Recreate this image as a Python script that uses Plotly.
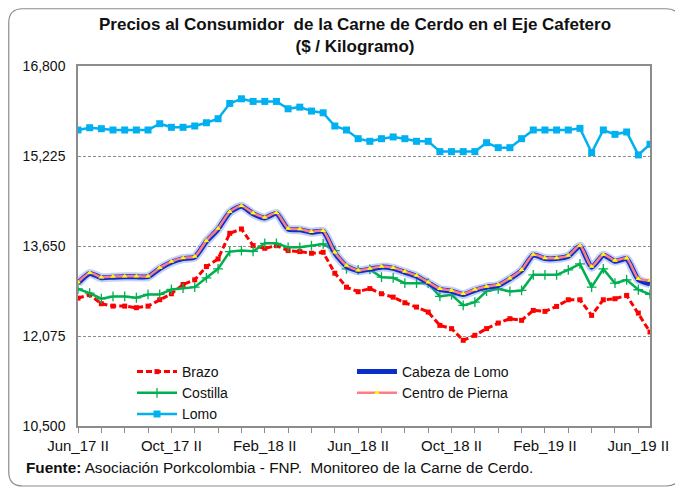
import plotly.graph_objects as go

# ---- data ----
months = ["Ene", "Feb", "Mar", "Abr", "May", "Jun", "Jul", "Ago", "Sep", "Oct", "Nov", "Dic"]
periods = []
for k in range(50):
    m_index = 5 + (k + 1) // 2          # starts at Jun 2017, second half
    year = 17 + m_index // 12
    mon = months[m_index % 12]
    periods.append(f"{mon}_{year} {'II' if k % 2 == 0 else 'I'}")

brazo = [12738, 12797, 12640, 12598, 12598, 12570, 12598, 12710, 12814, 12977,
         13058, 13290, 13424, 13872, 13948, 13657, 13610, 13657, 13570, 13552,
         13523, 13540, 13174, 12930, 12850, 12905, 12814, 12755, 12657, 12581,
         12494, 12261, 12204, 12000, 12087, 12204, 12302, 12378, 12349, 12523,
         12506, 12593, 12709, 12709, 12436, 12709, 12727, 12785, 12476, 12145]

costilla = [12901, 12826, 12727, 12767, 12767, 12744, 12802, 12802, 12889, 12912,
            12930, 13093, 13250, 13552, 13570, 13558, 13697, 13697, 13627, 13627,
            13657, 13686, 13570, 13250, 13233, 13240, 13104, 13093, 12999, 12999,
            12999, 12767, 12796, 12610, 12668, 12860, 12901, 12855, 12872, 13146,
            13146, 13146, 13233, 13337, 12930, 13250, 12999, 13058, 12884, 12802]

lomo = [15680, 15720, 15703, 15680, 15680, 15680, 15680, 15790, 15727, 15727,
        15750, 15807, 15877, 16145, 16226, 16180, 16180, 16180, 16051, 16080,
        16011, 15981, 15750, 15680, 15528, 15482, 15528, 15558, 15528, 15482,
        15482, 15302, 15302, 15302, 15302, 15458, 15371, 15371, 15528, 15680,
        15680, 15680, 15680, 15709, 15285, 15680, 15604, 15645, 15244, 15430]

cabeza_lomo = [13000, 13170, 13095, 13105, 13110, 13110, 13112, 13255, 13365, 13430,
               13455, 13730, 13945, 14240, 14345, 14215, 14140, 14220, 13945, 13935,
               13890, 13905, 13525, 13295, 13215, 13245, 13280, 13258, 13190, 13120,
               13005, 12890, 12860, 12800, 12875, 12930, 12960, 13075, 13220, 13490,
               13430, 13430, 13470, 13645, 13278, 13488, 13383, 13425, 13062, 12990]

centro_pierna = [13017, 13180, 13104, 13116, 13121, 13121, 13121, 13268, 13378, 13442,
                 13465, 13744, 13958, 14250, 14354, 14227, 14150, 14232, 13958, 13948,
                 13901, 13918, 13540, 13308, 13227, 13256, 13290, 13268, 13203, 13133,
                 13017, 12901, 12872, 12814, 12889, 12942, 12971, 13087, 13233, 13500,
                 13442, 13442, 13482, 13657, 13290, 13500, 13395, 13436, 13076, 13046]

y_ticks = [10500, 12075, 13650, 15225, 16800]
y_ticktext = ["10,500", "12,075", "13,650", "15,225", "16,800"]

tick_positions = periods[0:50:2]
tick_labels = [p if i % 8 == 0 else "" for i, p in zip(range(0, 50, 2), tick_positions)]

FONT = "Liberation Sans, Arial, sans-serif"

fig = go.Figure()

fig.add_trace(go.Scatter(
    x=periods, y=brazo, name="Brazo", mode="lines+markers",
    line=dict(color="#FF0000", width=3, dash="6px,3px"),
    marker=dict(symbol="square", size=5, color="#FF0000"),
    legend="legend"))
fig.add_trace(go.Scatter(
    x=periods, y=costilla, name="Costilla", mode="lines+markers",
    line=dict(color="#00B050", width=2.5),
    marker=dict(symbol="cross-thin", size=7, line=dict(color="#00B050", width=1.3)),
    legend="legend"))
fig.add_trace(go.Scatter(
    x=periods, y=lomo, name="Lomo", mode="lines+markers",
    line=dict(color="#00B0F0", width=2.5),
    marker=dict(symbol="square", size=7, color="#00B0F0"),
    legend="legend"))
# soft glow under Cabeza de Lomo
fig.add_trace(go.Scatter(
    x=periods, y=cabeza_lomo, mode="lines", showlegend=False, hoverinfo="skip",
    line=dict(color="rgba(90,120,230,0.35)", width=9, shape="spline", smoothing=0.6)))
fig.add_trace(go.Scatter(
    x=periods, y=cabeza_lomo, name="Cabeza de Lomo", mode="lines",
    line=dict(color="#0A2FC8", width=5, shape="spline", smoothing=0.6),
    legend="legend2"))
fig.add_trace(go.Scatter(
    x=periods, y=centro_pierna, name="Centro de Pierna", mode="lines+markers",
    line=dict(color="#FF7C80", width=2.5, shape="spline", smoothing=0.6),
    marker=dict(symbol="triangle-up", size=5, color="#FFFF00"),
    legend="legend2"))

# The page body adds an 8 px margin, so the figure is drawn 8 px in from the window corner.
OFF = 8
W, H = 683 - OFF, 491 - OFF
# plot area in page pixels
PL, PR, PT, PB = 78, 650, 66, 426
def px(xp):
    return (xp - PL) / (PR - PL)
def py(yp):
    return (PB - yp) / (PB - PT)

# outer rounded frame (page px)
l, r, t, b, rad = 8.75, 680, 8.75, 486, 14
def P(xp, yp):
    return f"{px(xp):.5f},{py(yp):.5f}"
frame = (f"M {P(l + rad, t)} L {P(r - rad, t)} Q {P(r, t)} {P(r, t + rad)} "
         f"L {P(r, b - rad)} Q {P(r, b)} {P(r - rad, b)} "
         f"L {P(l + rad, b)} Q {P(l, b)} {P(l, b - rad)} "
         f"L {P(l, t + rad)} Q {P(l, t)} {P(l + rad, t)} Z")

fig.update_layout(
    width=W, height=H,
    margin=dict(l=PL - OFF, r=W - (PR - OFF), t=PT - OFF, b=H - (PB - OFF), pad=0),
    paper_bgcolor="white", plot_bgcolor="white",
    font=dict(family=FONT, size=14, color="#111111"),
    showlegend=True,
    shapes=[dict(type="path", xref="paper", yref="paper", path=frame,
                 line=dict(color="#8C8C8C", width=1.2), layer="below")],
    annotations=[
        dict(text="<b>Precios al Consumidor  de la Carne de Cerdo en el Eje Cafetero</b><br>"
                  "<b>($ / Kilogramo)</b>",
             xref="paper", yref="paper", x=px(355), y=py(35), showarrow=False,
             xanchor="center", yanchor="middle", align="center",
             font=dict(size=17, color="#111111")),
        dict(text="<b>Fuente:</b> Asociación Porkcolombia - FNP.  Monitoreo de la Carne de Cerdo.",
             xref="paper", yref="paper", x=px(24), y=py(467), showarrow=False,
             xanchor="left", yanchor="middle", font=dict(size=15.3, color="#111111")),
    ],
    xaxis=dict(
        type="category", range=[0, 49],
        tickmode="array", tickvals=tick_positions, ticktext=tick_labels,
        ticks="outside", ticklen=5, tickcolor="#8C8C8C", tickwidth=1,
        showline=True, linecolor="#8C8C8C", linewidth=1.5, mirror=True,
        showgrid=False, zeroline=False,
        tickfont=dict(size=15, color="#111111"), tickangle=0),
    yaxis=dict(
        range=[10500, 16800], tickmode="array", tickvals=y_ticks, ticktext=y_ticktext,
        ticks="", showline=True, linecolor="#8C8C8C", linewidth=1.5, mirror=True,
        showgrid=True, gridcolor="#8C8C8C", gridwidth=1, griddash="3px,2px",
        zeroline=False, ticklabelstandoff=8, tickfont=dict(size=14, color="#111111")),
    legend=dict(x=px(132), y=py(356), xanchor="left", yanchor="top",
                bgcolor="rgba(0,0,0,0)", itemwidth=40, tracegroupgap=0,
                font=dict(size=14, color="#111111")),
    legend2=dict(x=px(352), y=py(356), xanchor="left", yanchor="top",
                 bgcolor="rgba(0,0,0,0)", itemwidth=40, tracegroupgap=0,
                 font=dict(size=14, color="#111111")),
)

fig.write_html("out.html")
